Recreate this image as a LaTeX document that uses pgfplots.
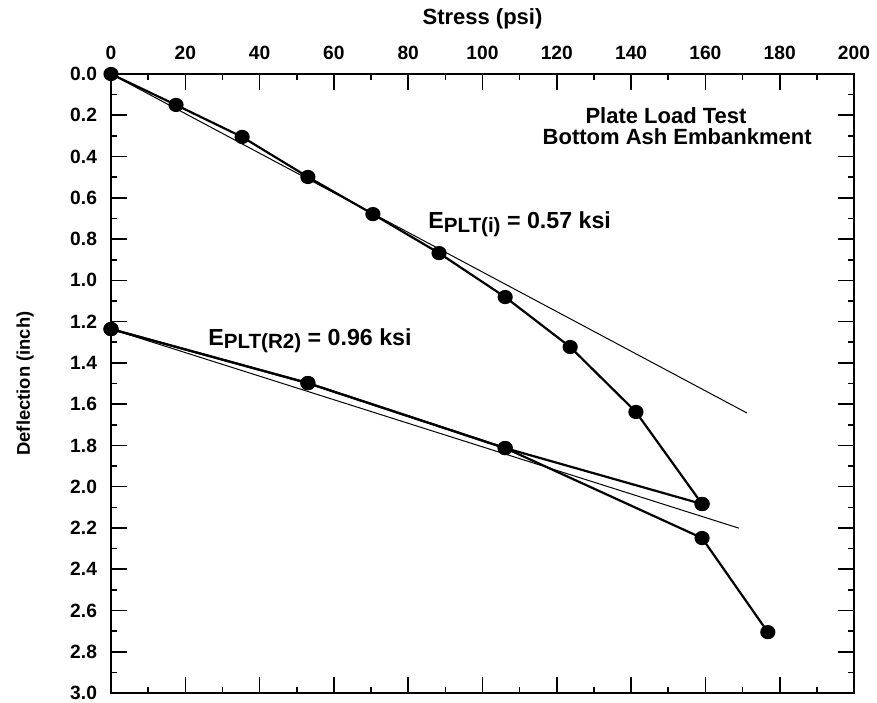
\documentclass[border=0pt]{standalone}
\usepackage{pgfplots}
\pgfplotsset{compat=1.18}
\usepackage{fontspec}
\setmainfont{Liberation Sans}

% loading / unloading / reloading data
\pgfplotstableread{
s d
0 0
17.5 0.150
35.3 0.305
53.0 0.499
70.5 0.679
88.3 0.868
106.1 1.081
123.6 1.323
141.3 1.638
159.1 2.084
}\loadA
\pgfplotstableread{
s d
159.1 2.084
106.1 1.813
53.0 1.498
0 1.236
}\unloadA
\pgfplotstableread{
s d
0 1.236
53.0 1.498
106.1 1.813
159.1 2.249
176.8 2.705
}\reloadA

\newcommand{\Esub}[1]{E\raisebox{-1.8pt}{\fontsize{10.3}{11}\selectfont #1}}

\begin{document}
\begin{tikzpicture}
\path[use as bounding box] (-55.5pt,-4.5pt) rectangle (383pt,346.5pt);
\begin{axis}[
  scale only axis, width=371.5pt, height=309.5pt,
  xmin=0, xmax=200, ymin=0, ymax=3,
  y dir=reverse,
  xtick={0,20,...,200}, ytick={0,0.2,...,3.0},
  minor x tick num=1, minor y tick num=1,
  xticklabel pos=right, yticklabel pos=left,
  tick align=inside, tick pos=both,
  major tick length=8pt, minor tick length=3pt,
  axis line style={line width=1pt},
  every tick/.style={black, line width=0.8pt},
  /pgf/number format/assume math mode=true,
  yticklabel={\pgfmathprintnumber[fixed, fixed zerofill, precision=1]{\tick}},
  ticklabel style={font=\bfseries\fontsize{9.6}{10}\selectfont},
  xticklabel style={yshift=3.5pt},
  yticklabel style={xshift=-3.5pt},
  xlabel={Stress (psi)},
  ylabel={Deflection (inch)},
  xlabel style={font=\bfseries\fontsize{11}{12}\selectfont, at={(axis description cs:0.5,1)}, anchor=base, yshift=25pt},
  ylabel style={font=\bfseries\fontsize{9.2}{10}\selectfont, at={(axis description cs:-0.1157,0.5)}, anchor=center},
  clip=false,
]
\addplot[black, line width=0.5pt] coordinates {(0,0) (171.2,1.643)};
\addplot[black, line width=0.5pt] coordinates {(0,1.236) (169.0,2.201)};
\addplot[black, line width=1.1pt, mark=*, mark size=3pt, mark options={xscale=1.08}] table[x=s, y=d] {\loadA};
\addplot[black, line width=1.1pt, mark=*, mark size=3pt, mark options={xscale=1.08}] table[x=s, y=d] {\unloadA};
\addplot[black, line width=1.1pt, mark=*, mark size=3pt, mark options={xscale=1.08}] table[x=s, y=d] {\reloadA};

\node[anchor=base, inner sep=0, font=\bfseries\fontsize{11}{12}\selectfont] at (axis cs:149.4,0.242) {Plate Load Test};
\node[anchor=base, inner sep=0, font=\bfseries\fontsize{11}{12}\selectfont] at (axis cs:152.4,0.344) {Bottom Ash Embankment};
\node[anchor=base west, inner sep=0, font=\bfseries\fontsize{11.6}{12}\selectfont] at (axis cs:85.3,0.751) {\Esub{PLT(i)} = 0.57 ksi};
\node[anchor=base west, inner sep=0, font=\bfseries\fontsize{11.6}{12}\selectfont] at (axis cs:26.1,1.314) {\Esub{PLT(R2)} = 0.96 ksi};
\end{axis}
\end{tikzpicture}
\end{document}
